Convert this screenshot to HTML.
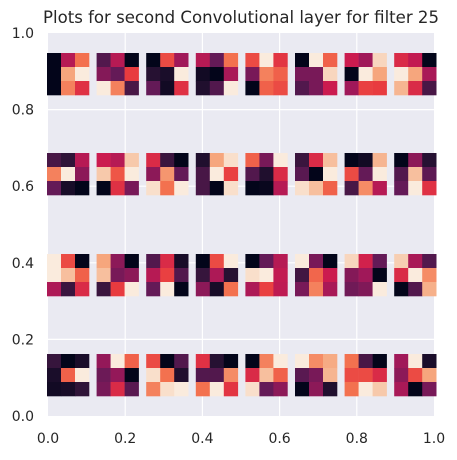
<!DOCTYPE html>
<html><head><meta charset="utf-8"><style>
html,body{margin:0;padding:0;background:#fff;}
svg text{font-family:"DejaVu Sans","Liberation Sans",sans-serif;fill:#262626;}
</style></head><body>
<svg id="chart" width="457" height="455" viewBox="0 0 457 455" xmlns="http://www.w3.org/2000/svg">
<text x="241" y="23" font-size="16.5" text-anchor="middle" textLength="396" lengthAdjust="spacingAndGlyphs">Plots for second Convolutional layer for filter 25</text>
<rect x="48" y="33" width="386" height="383" fill="#eaeaf2"/>
<g id="grid"></g>
<g id="ticks"></g>
<g id="cells"></g>
</svg>
<script>
const ticks=[0,0.2,0.4,0.6,0.8,1.0];
const tickLabels=["0.0","0.2","0.4","0.6","0.8","1.0"];
const row1=[
[[0,.5,.75],[0,.85,1],[0,.78,.62]],
[[.25,.5,0],[.38,.3,.65],[1,.78,.22]],
[[0,.68,.45],[.12,.08,1],[.3,.05,.62]],
[[.5,.3,.75],[.05,0,.47],[.1,.25,1]],
[[.68,1,.63],[.35,.78,.72],[0,.72,.68]],
[[0,1,.72],[.35,.35,.95],[.25,.35,.55]],
[[.55,.45,.95],[0,1,.85],[.45,.66,.65]],
[[.6,.53,0],[1,.85,.47],[.88,.6,.22]]];
const row2=[
[[.22,.15,.5],[.78,1,.4],[.3,.07,0]],
[[.55,.5,.92],[.92,.7,1],[0,.62,.35]],
[[.6,.18,0],[.4,.82,.3],[.97,.75,1]],
[[.1,.85,.97],[.22,1,.66],[.22,0,.97]],
[[.72,.35,1],[.25,.1,.6],[0,.02,.5]],
[[.18,.6,.9],[.27,0,1],[.97,.9,.72]],
[[0,.05,.88],[.68,.3,1],[.22,.8,.5]],
[[0,.4,.12],[.25,.9,.28],[.3,1,.62]]];
const row3=[
[[1,.68,0],[1,.9,.72],[.48,.18,.6]],
[[.85,.4,0],[.9,.35,.4],[.18,.65,1]],
[[.25,.6,.07],[.5,.66,.25],[.3,1,0]],
[[0,.68,1],[.17,.48,.12],[.4,.07,.75]],
[[0,.3,.5],[.97,1,.53],[.48,.66,.52]],
[[1,.35,0],[.2,.73,.55],[.35,.78,.47]],
[[.95,.57,.3],[.38,.45,0],[.33,.37,1]],
[[.93,.47,.25],[.6,1,.8],[0,.25,.87]]];
const row4=[
[[.17,0,.08],[.08,.72,1],[.05,.07,.15]],
[[.42,1,.72],[.32,.42,0],[.35,.6,.27]],
[[.68,0,.25],[.97,.75,.1],[.78,.97,1]],
[[.62,.12,0],[.25,.25,.8],[.75,1,.63]],
[[0,.78,1],[.6,.9,.72],[.97,.3,.4]],
[[1,.8,.86],[.27,.35,.88],[0,.4,.1]],
[[.75,.22,0],[.68,.68,.6],[.75,1,.92]],
[[.45,1,.08],[.4,.68,.85],[.47,0,.35]]];
const rows=[row1,row2,row3,row4];

const NS="http://www.w3.org/2000/svg";
const X0=48,X1=434,Y0=416,Y1=33;
const xs=v=>X0+v*(X1-X0);
const ys=v=>Y0-v*(Y0-Y1);
const stops=[[0,[3,5,26]],[0.15,[47,20,56]],[0.3,[100,26,87]],[0.45,[160,24,89]],[0.55,[203,27,79]],[0.65,[232,59,63]],[0.75,[243,113,79]],[0.85,[246,166,125]],[0.93,[247,206,178]],[1,[250,235,221]]];
function cmap(v){
  for(let i=1;i<stops.length;i++){
    if(v<=stops[i][0]){const [a,ca]=stops[i-1],[b,cb]=stops[i];const t=(v-a)/(b-a);
      return 'rgb('+ca.map((c,k)=>Math.round(c+(cb[k]-c)*t)).join(',')+')';}
  }
  return 'rgb(250,235,221)';
}
const grid=document.getElementById('grid');
ticks.forEach((t,i)=>{
  if(i>0&&i<ticks.length-1){
    const v=document.createElementNS(NS,'line');
    
    
    v.setAttribute('x1',xs(t));v.setAttribute('x2',xs(t));v.setAttribute('y1',Y1);v.setAttribute('y2',Y0);
    v.setAttribute('stroke','#fff');v.setAttribute('stroke-width','1.2');grid.appendChild(v);
    const h=document.createElementNS(NS,'line');
    
    
    h.setAttribute('x1',X0);h.setAttribute('x2',X1);h.setAttribute('y1',ys(t));h.setAttribute('y2',ys(t));
    h.setAttribute('stroke','#fff');h.setAttribute('stroke-width','1.2');grid.appendChild(h);
  }
});
const tg=document.getElementById('ticks');
ticks.forEach((t,i)=>{
  const a=document.createElementNS(NS,'text');
  
  
  a.setAttribute('x',xs(t));a.setAttribute('y',443);a.setAttribute('font-size','14');a.setAttribute('text-anchor','middle');
  a.textContent=tickLabels[i];tg.appendChild(a);
  const b=document.createElementNS(NS,'text');
  
  
  b.setAttribute('x',34);b.setAttribute('y',ys(t)+5);b.setAttribute('font-size','14');b.setAttribute('text-anchor','end');
  b.textContent=tickLabels[i];tg.appendChild(b);
});
const cg=document.getElementById('cells');
const rowTop=[53,153,254,354];
const cell=14;
rows.forEach((row,r)=>{
  row.forEach((blk,b)=>{
    const bx=47+b*49.6;
    blk.forEach((line,i)=>line.forEach((v,j)=>{
      const c=document.createElementNS(NS,'rect');
      
      
      c.setAttribute('x',(bx+j*cell).toFixed(2));c.setAttribute('y',(rowTop[r]+i*cell).toFixed(2));
      c.setAttribute('width',cell+0.3);c.setAttribute('height',cell+0.3);
      c.setAttribute('fill',cmap(v));cg.appendChild(c);
    }));
  });
});
</script>
</body></html>
